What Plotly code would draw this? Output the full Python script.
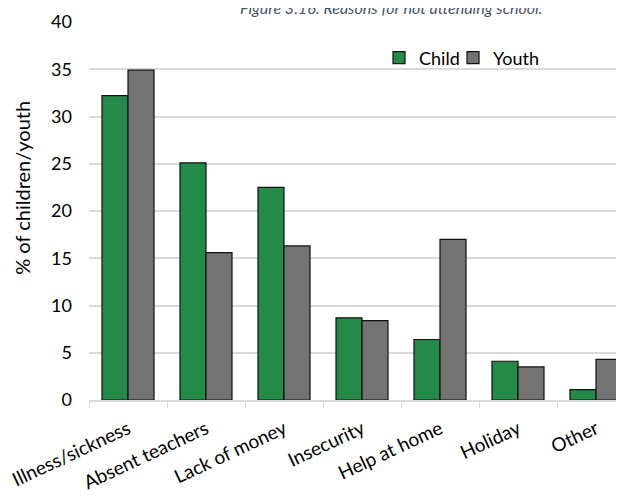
import plotly.graph_objects as go

categories = ["Illness/sickness", "Absent teachers", "Lack of money", "Insecurity",
              "Help at home", "Holiday", "Other"]
child = [32.2, 25.1, 22.5, 8.7, 6.4, 4.1, 1.1]
youth = [34.9, 15.6, 16.3, 8.4, 17.0, 3.5, 4.3]
y_ticks = [0, 5, 10, 15, 20, 25, 30, 35, 40]

FONT = "Lato"
OFF = 8  # page body margin
W, H = 616, 490
# plot area in screen pixels
s_top, s_bottom, s_left, s_right = 22, 400.5, 89, 624
top, bottom_px, left, right_px = s_top - OFF, s_bottom - OFF, s_left - OFF, s_right - OFF

def py(s):
    return (s_bottom - s) / (s_bottom - s_top)

def px(s):
    return (s - s_left) / (s_right - s_left)

fig = go.Figure()
fig.add_bar(name="Child", x=categories, y=child, legend="legend",
            marker=dict(color="#238A47", line=dict(color="#111111", width=1.2)))
fig.add_bar(name="Youth", x=categories, y=youth, legend="legend2",
            marker=dict(color="#737373", line=dict(color="#111111", width=1.2)))

leg_common = dict(orientation="h", y=py(58), xanchor="left", yanchor="middle",
                  font=dict(family=FONT, size=18), bgcolor="rgba(0,0,0,0)", itemwidth=30)

fig.update_layout(
    width=W, height=H,
    margin=dict(l=left, r=W - right_px, t=top, b=H - bottom_px, autoexpand=False),
    plot_bgcolor="white", paper_bgcolor="white",
    barmode="group", bargap=0.333, bargroupgap=0,
    font=dict(family=FONT, size=18, color="#000000"),
    showlegend=True,
    legend=dict(x=px(379), **leg_common),
    legend2=dict(x=px(453), **leg_common),
    xaxis=dict(range=[-0.5, 6.5 - 11/78], tickangle=-25, tickson="boundaries",
               ticks="outside", ticklen=6, tickcolor="#D9D9D9", showline=True,
               linecolor="#D9D9D9", linewidth=1.5, showgrid=False, automargin=False,
               ticklabelstandoff=9, tickfont=dict(family=FONT, size=19)),
    yaxis=dict(range=[0, 40], tickvals=y_ticks, showgrid=True, gridcolor="#D9D9D9",
               gridwidth=1.5, zeroline=False, showline=False, ticks="", automargin=False,
               ticklabelstandoff=16, tickfont=dict(family=FONT, size=18)),
    annotations=[
        dict(text="<i>Figure 3.16: Reasons for not attending school.</i>", xref="paper", yref="paper",
             x=px(391), y=py(19), xanchor="center", yanchor="bottom", showarrow=False,
             font=dict(family=FONT, size=16, color="#44546A")),
        dict(text="% of children/youth", xref="paper", yref="paper", x=px(22), y=py(188),
             xanchor="center", yanchor="middle", textangle=-90, showarrow=False,
             font=dict(family=FONT, size=20)),
    ],
)

fig.write_html("out.html")
